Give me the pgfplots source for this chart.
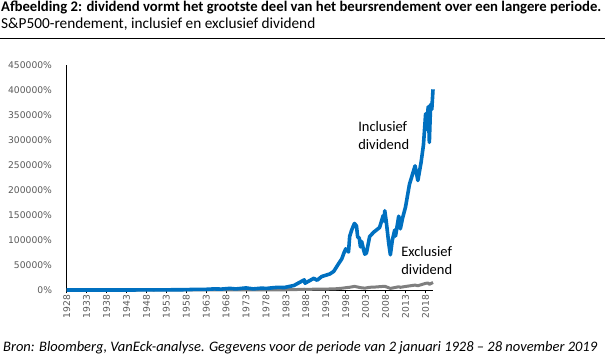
\documentclass[border=0pt]{standalone}
\usepackage{fontspec}
\usepackage{pgfplots}
\pgfplotsset{compat=1.18}
\setmainfont{Carlito}
\newfontfamily\tickfont{DejaVu Sans}
\definecolor{incl}{HTML}{0070C0}
\definecolor{excl}{HTML}{7F7F7F}
\definecolor{ticktext}{HTML}{595959}
\begin{document}
\begin{tikzpicture}
\path[use as bounding box] (0bp,0bp) rectangle (605bp,358bp);
\node[anchor=base west,inner sep=0,font=\fontsize{14.7bp}{16bp}\selectfont\bfseries] at (1bp,346bp) {Afbeelding 2: dividend vormt het grootste deel van het beursrendement over een langere periode.};
\node[anchor=base west,inner sep=0,font=\fontsize{15.3bp}{16bp}\selectfont] at (1bp,329bp) {S\&P500-rendement, inclusief en exclusief dividend};
\draw[line width=1bp,black] (0bp,319.2bp) -- (605bp,319.2bp);
\node[anchor=base west,inner sep=0,font=\fontsize{14.5bp}{16bp}\selectfont\itshape] at (3bp,7bp) {Bron: Bloomberg, VanEck-analyse. Gegevens voor de periode van 2 januari 1928 -- 28 november 2019};
\begin{axis}[
  at={(66.7bp,68bp)}, anchor=south west,
  scale only axis, width=366.3bp, height=225bp,
  xmin=1928, xmax=2019.9, ymin=0, ymax=450000,
  scaled y ticks=false, scaled x ticks=false,
  axis lines=left, axis line style={-, black, line width=0.8bp},
  xtick={1928,1933,...,2018},
  xticklabels={1928,1933,1938,1943,1948,1953,1958,1963,1968,1973,1978,1983,1988,1993,1998,2003,2008,2013,2018},
  ytick={0,50000,...,450000},
  yticklabels={0\%,50000\%,100000\%,150000\%,200000\%,250000\%,300000\%,350000\%,400000\%,450000\%},
  tick align=outside, major tick length=3.5bp,
  xtick style={black, line width=0.8bp},
  ytick style={draw=none},
  x tick label style={rotate=90, anchor=east, font=\tickfont\fontsize{9.2bp}{10bp}\selectfont, text=ticktext, inner sep=1bp},
  y tick label style={anchor=east, font=\tickfont\fontsize{9.2bp}{10bp}\selectfont, text=ticktext, inner sep=0pt, xshift=-11bp},
  clip=false,
]
\addplot[excl, line width=3bp, line join=round] coordinates {
(1928,0) (1929.7,68) (1932.5,-64) (1937.2,5) (1942.3,-49) (1946.4,7) (1950,-3)
(1955,88) (1960,194) (1965,324) (1968.9,435) (1970.4,247) (1973,493) (1974.8,213)
(1980,435) (1982.6,406) (1985,718) (1987.6,1533) (1987.8,993) (1990,1615) (1995,2125)
(1997,3480) (1998,4580) (1999,5500) (2000.2,7265) (2001.7,4700) (2002.8,3655) (2004,5440)
(2005,5690) (2007.8,7450) (2009.2,3170) (2011.3,6500) (2011.7,5390) (2013,7040)
(2015.4,9830) (2016.1,8560) (2018.05,13300) (2018.7,14000) (2018.98,11200) (2019.9,15080)
};
\addplot[incl, line width=3.6bp, line join=round] coordinates {
(1928.0,0) (1928.9,40) (1929.7,95) (1929.9,30) (1930.3,60) (1932.5,-70) (1933.5,-10)
(1934.5,-25) (1937.2,60) (1938.3,-10) (1939.5,20) (1942.3,-20) (1946.4,143) (1947.5,100)
(1950.0,160) (1953.7,300) (1955.0,590) (1957.8,600) (1960.0,1210) (1962.4,1100)
(1965.0,2180) (1966.8,1800) (1968.9,3210) (1970.4,2120) (1973.0,4140) (1974.8,2220)
(1976.8,3600) (1978.2,3200) (1980.0,4730) (1981.0,5300) (1982.6,4960) (1985.0,9000)
(1987.6,20300) (1987.8,13600) (1990.0,23400) (1990.8,19500) (1992.0,27000) (1994.0,32000)
(1995.0,37300) (1996.0,50000) (1997.0,62000) (1997.6,75000) (1998.0,82300) (1998.7,76000)
(1999.0,107500) (1999.5,120000) (1999.9,128000) (2000.2,133100) (2000.7,128000)
(2001.0,106000) (2001.4,104000) (2001.7,86200) (2002.0,97000) (2002.5,80000)
(2002.8,71600) (2003.2,74000) (2004.0,106800) (2005.0,115500) (2006.5,125000)
(2007.4,149000) (2007.6,138000) (2007.8,158500) (2008.2,135000) (2008.8,92700)
(2009.2,70400) (2009.7,100000) (2010.3,120000) (2010.5,108000) (2011.3,147700)
(2011.7,122300) (2012.3,145000) (2013.0,165900) (2014.0,211600) (2015.4,248300)
(2016.1,219000) (2016.9,255000) (2017.5,290000) (2018.05,352600) (2018.2,320900)
(2018.7,366600) (2018.98,295300) (2019.3,371200) (2019.6,361400) (2019.9,401300)
};
\node[anchor=north west, inner sep=0, align=left, font=\fontsize{14.5bp}{18bp}\selectfont] at (axis cs:2001.1,338000) {Inclusief\\dividend};
\node[anchor=north west, inner sep=0, align=left, font=\fontsize{14.5bp}{18bp}\selectfont] at (axis cs:2011.9,88000) {Exclusief\\dividend};
\end{axis}
\end{tikzpicture}
\end{document}
